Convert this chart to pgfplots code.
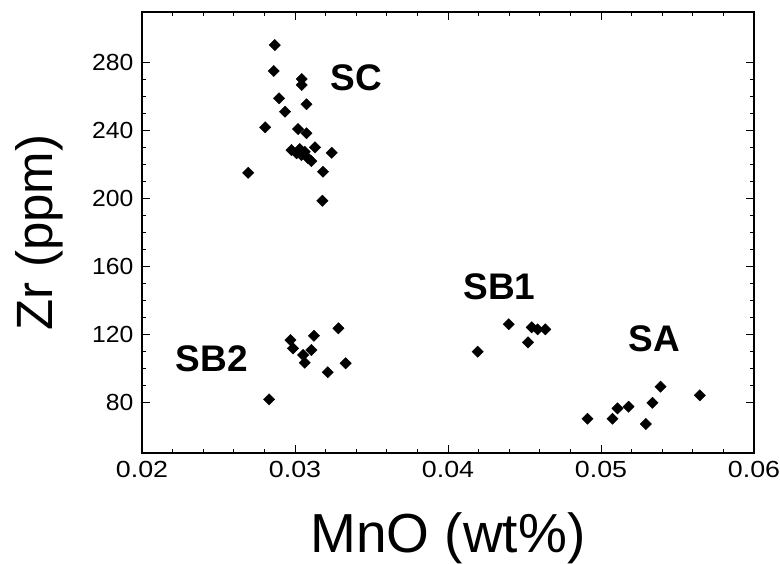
\documentclass[border=0pt]{standalone}
\usepackage{fontspec}
\setmainfont{Liberation Sans}
\usepackage{pgfplots}
\pgfplotsset{compat=1.18}
\begin{document}
\begin{tikzpicture}
\useasboundingbox (-142pt,-110pt) rectangle (638pt,453pt);
\begin{axis}[
  scale only axis,
  width=612pt, height=441pt,
  xmin=0.02, xmax=0.06, ymin=50, ymax=310,
  scaled x ticks=false,
  xtick={0.02,0.03,0.04,0.05,0.06},
  xticklabels={0.02,0.03,0.04,0.05,0.06},
  ytick={80,120,160,200,240,280},
  minor x tick num=4, minor y tick num=3,
  tick align=inside,
  major tick length=8pt, minor tick length=4.5pt,
  every tick/.style={black, line width=0.9pt},
  axis line style={line width=1.3pt},
  /pgf/number format/assume math mode=true,
  tick label style={font=\fontsize{23.3}{26}\selectfont},
  xticklabel style={xscale=1.15},
  yticklabel style={xscale=1.06},
  xticklabel shift=5pt,
  yticklabel shift=5pt,
  xlabel={MnO (wt\%)},
  ylabel={Zr (ppm)},
  xlabel style={font=\fontsize{55}{60}\selectfont, at={(axis description cs:0.5,0)}, anchor=base, yshift=-99pt},
  ylabel style={font=\fontsize{51}{56}\selectfont, at={([xshift=-89pt]axis description cs:0,0.5)}, anchor=base},
  clip=false,
]
% SC
\addplot[only marks, mark=square*, mark size=4pt, mark options={rotate=45, fill=black, draw=black}] coordinates {
(0.02868,290.5) (0.02861,275.2) (0.03044,270.5) (0.03044,267.0) (0.02896,259.1)
(0.03075,255.6) (0.02935,251.2) (0.02805,242.0) (0.03020,241.0) (0.03075,238.5)
(0.02977,228.6) (0.03031,229.2) (0.03042,225.7) (0.03064,227.6) (0.03131,230.2)
(0.03107,222.1) (0.03240,227.0) (0.02694,215.2) (0.03183,215.8) (0.03179,198.7)
(0.03010,226.7) (0.03083,224.0)
};
% SB2
\addplot[only marks, mark=square*, mark size=4pt, mark options={rotate=45, fill=black, draw=black}] coordinates {
(0.02970,116.6) (0.02987,111.7) (0.03124,119.1) (0.03107,110.7) (0.03053,107.8)
(0.03064,103.2) (0.03284,123.5) (0.03331,102.9) (0.03214,97.6) (0.02831,81.6)
};
% SB1
\addplot[only marks, mark=square*, mark size=4pt, mark options={rotate=45, fill=black, draw=black}] coordinates {
(0.04194,109.7) (0.04397,125.9) (0.04547,124.1) (0.04586,122.9) (0.04636,122.9)
(0.04523,115.2)
};
% SA
\addplot[only marks, mark=square*, mark size=4pt, mark options={rotate=45, fill=black, draw=black}] coordinates {
(0.04912,70.2) (0.05075,70.2) (0.05108,76.3) (0.05180,77.3) (0.05293,67.1)
(0.05336,79.6) (0.05389,89.1) (0.05646,84.0)
};
\node[font=\fontsize{37}{40}\selectfont\bfseries] at (axis cs:0.03403,271.1) {SC};
\node[font=\fontsize{37}{40}\selectfont\bfseries] at (axis cs:0.02455,105.8) {SB2};
\node[font=\fontsize{37}{40}\selectfont\bfseries] at (axis cs:0.04336,148.0) {SB1};
\node[font=\fontsize{37}{40}\selectfont\bfseries] at (axis cs:0.05347,117.6) {SA};
\end{axis}
\end{tikzpicture}
\end{document}
